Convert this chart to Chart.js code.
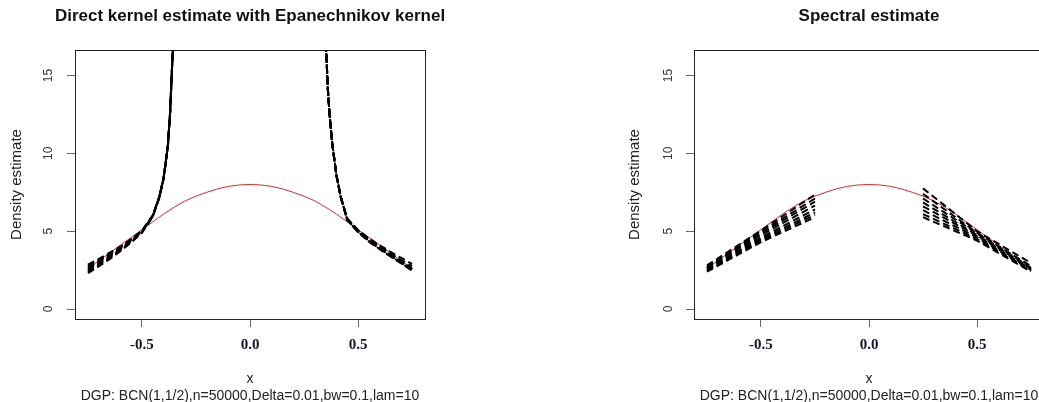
<!DOCTYPE html>
<html lang="en">
<head>
<meta charset="UTF-8">
<title>Density estimates</title>
<script src="https://cdn.jsdelivr.net/npm/chart.js@4.4.0/dist/chart.umd.min.js"></script>
<style>
    html, body { margin: 0; padding: 0; background: #fff; width: 1039px; height: 402px; overflow: hidden; }
    canvas { position: absolute; top: 0; }
    #kernelChart { left: 0; }
    #spectralChart { left: 520px; }
</style>
</head>
<body>
<canvas id="kernelChart" width="520" height="402"></canvas>
<canvas id="spectralChart" width="700" height="402"></canvas>

<script>
    // axis ticks and ranges
    var xTicks = [-0.5, 0, 0.5];
    var yTicks = [0, 5, 10, 15];
    var xRange = [-0.81, 0.81];
    var yRange = [-0.64, 16.64];

    var subText = "DGP: BCN(1,1/2),n=50000,Delta=0.01,bw=0.1,lam=10";

    // true density (red curve)
    var trueX = [-0.75, -0.7, -0.65, -0.6, -0.55, -0.5, -0.45, -0.4, -0.35, -0.3, -0.25, -0.2, -0.15, -0.1, -0.05, 0,
                 0.05, 0.1, 0.15, 0.2, 0.25, 0.3, 0.35, 0.4, 0.45, 0.5, 0.55, 0.6, 0.65, 0.7, 0.75];
    var trueDensity = [2.6, 3.1, 3.6, 4.1, 4.6, 5.1, 5.6, 6.1, 6.55, 6.95, 7.25, 7.5, 7.72, 7.88, 7.97, 8.0,
                       7.97, 7.88, 7.72, 7.5, 7.25, 6.95, 6.55, 6.1, 5.6, 5.1, 4.6, 4.1, 3.6, 3.1, 2.6];

    // direct kernel estimates, left branch
    var kernelLeftX = [-0.75, -0.7, -0.65, -0.6, -0.55, -0.5, -0.45, -0.42, -0.4, -0.38, -0.37, -0.36, -0.35, -0.34];
    var kernelLeft1 = [2.85, 3.22, 3.62, 4.02, 4.5, 5.05, 6.02, 7.22, 8.42, 10.5, 12.6, 15.8, 18.5, 23.0];
    var kernelLeft2 = [2.75, 3.15, 3.55, 3.97, 4.46, 5.02, 6.0, 7.2, 8.4, 10.48, 12.58, 15.75, 18.45, 22.9];
    var kernelLeft3 = [2.68, 3.08, 3.5, 3.92, 4.43, 5.0, 5.98, 7.18, 8.39, 10.5, 12.62, 15.82, 18.55, 23.1];
    var kernelLeft4 = [2.6, 3.02, 3.44, 3.88, 4.4, 4.98, 5.99, 7.2, 8.4, 10.52, 12.6, 15.8, 18.5, 23.0];
    var kernelLeft5 = [2.52, 2.95, 3.38, 3.84, 4.36, 4.96, 5.97, 7.17, 8.38, 10.47, 12.57, 15.76, 18.48, 22.95];
    var kernelLeft6 = [2.44, 2.88, 3.32, 3.8, 4.33, 4.94, 5.96, 7.18, 8.41, 10.51, 12.61, 15.81, 18.52, 23.05];
    var kernelLeft7 = [2.36, 2.8, 3.26, 3.75, 4.3, 4.92, 5.95, 7.16, 8.38, 10.49, 12.59, 15.79, 18.5, 23.0];
    var kernelLeft8 = [2.3, 2.74, 3.2, 3.72, 4.28, 4.9, 5.94, 7.15, 8.37, 10.46, 12.56, 15.75, 18.45, 22.9];

    // direct kernel estimates, right branch
    var kernelRightX = [0.34, 0.35, 0.36, 0.37, 0.38, 0.4, 0.42, 0.45, 0.5, 0.55, 0.6, 0.65, 0.7, 0.75];
    var kernelRight1 = [22.0, 17.5, 14.2, 12.2, 10.7, 8.6, 7.2, 5.78, 5.02, 4.45, 3.95, 3.5, 3.05, 2.62];
    var kernelRight2 = [21.9, 17.45, 14.18, 12.18, 10.68, 8.58, 7.19, 5.75, 4.98, 4.4, 3.9, 3.44, 2.98, 2.55];
    var kernelRight3 = [22.1, 17.55, 14.22, 12.22, 10.72, 8.62, 7.21, 5.74, 4.96, 4.36, 3.86, 3.4, 2.95, 2.5];
    var kernelRight4 = [22.0, 17.5, 14.2, 12.2, 10.7, 8.6, 7.2, 5.72, 4.94, 4.33, 3.84, 3.38, 2.93, 2.47];
    var kernelRight5 = [21.95, 17.48, 14.19, 12.19, 10.69, 8.59, 7.2, 5.8, 5.06, 4.5, 4.02, 3.58, 3.15, 2.75];
    var kernelRight6 = [22.05, 17.52, 14.21, 12.21, 10.71, 8.61, 7.21, 5.82, 5.08, 4.55, 4.1, 3.68, 3.28, 2.9];
    var kernelRight7 = [22.0, 17.5, 14.2, 12.2, 10.7, 8.6, 7.2, 5.76, 5.0, 4.42, 3.92, 3.46, 3.02, 2.58];
    var kernelRight8 = [21.9, 17.46, 14.18, 12.19, 10.69, 8.59, 7.19, 5.73, 4.97, 4.38, 3.88, 3.42, 2.97, 2.53];

    // spectral estimates, two branches
    var spectralLeftX = [-0.75, -0.5, -0.25];
    var spectralLeft1 = [2.8, 5.05, 7.35];
    var spectralLeft2 = [2.7, 4.95, 7.1];
    var spectralLeft3 = [2.65, 4.85, 6.9];
    var spectralLeft4 = [2.6, 4.75, 6.65];
    var spectralLeft5 = [2.55, 4.6, 6.4];
    var spectralLeft6 = [2.5, 4.5, 6.2];
    var spectralLeft7 = [2.45, 4.4, 6.05];
    var spectralLeft8 = [2.4, 4.3, 5.9];

    var spectralRightX = [0.25, 0.5, 0.75];
    var spectralRight1 = [7.75, 5.0, 2.95];
    var spectralRight2 = [7.4, 4.9, 2.75];
    var spectralRight3 = [7.1, 4.85, 2.65];
    var spectralRight4 = [6.85, 4.75, 2.6];
    var spectralRight5 = [6.6, 4.7, 2.55];
    var spectralRight6 = [6.35, 4.6, 2.5];
    var spectralRight7 = [6.1, 4.5, 2.45];
    var spectralRight8 = [5.9, 4.4, 2.4];

    var sans = "'Liberation Sans', Arial, sans-serif";
    var serif = "'Liberation Serif', 'Times New Roman', serif";

    function points(xs, ys) {
        return xs.map(function (x, i) { return { x: x, y: ys[i] }; });
    }

    function dashed(xs, ys) {
        return {
            data: points(xs, ys),
            showLine: true,
            borderColor: '#000',
            borderWidth: 2,
            borderDash: [7, 4],
            pointRadius: 0,
            fill: false
        };
    }

    // drawn last in the list so it sits underneath the estimates
    function trueCurve() {
        return {
            data: points(trueX, trueDensity),
            showLine: true,
            borderColor: '#d42a2a',
            borderWidth: 1,
            pointRadius: 0,
            fill: false
        };
    }

    // p: layout sizes; the title box is kept centred over the plot region
    function makeOptions(title, p) {
        var frame = { display: true, color: '#222', width: 1 };
        var tickMarks = { drawOnChartArea: false, drawTicks: true, tickLength: 8, color: '#666' };
        var titleLine = p.titleSize * 1.2;
        return {
            responsive: false,
            animation: false,
            devicePixelRatio: 1,
            layout: { padding: { left: 0, right: p.padRight, top: 0, bottom: 0 } },
            plugins: {
                legend: { display: false },
                tooltip: { enabled: false },
                title: {
                    display: true, text: title, color: '#111',
                    font: { family: sans, size: p.titleSize, weight: 'bold', lineHeight: 1.2 },
                    padding: { top: p.titleTop, bottom: 0 }
                }
            },
            scales: {
                x: {
                    type: 'linear', position: 'bottom', min: xRange[0], max: xRange[1],
                    afterBuildTicks: function (s) { s.ticks = xTicks.map(function (v) { return { value: v }; }); },
                    afterFit: function (s) { s.height = 83; },
                    ticks: {
                        autoSkip: false, maxRotation: 0, padding: 9, color: '#1e0f2c',
                        font: { family: serif, size: 15, weight: 'bold' },
                        callback: function (v) { return v.toFixed(1); }
                    },
                    grid: tickMarks,
                    border: frame,
                    title: {
                        display: true, text: ['x', subText], color: '#222',
                        font: { family: sans, size: 14, lineHeight: 16.5 / 14 },
                        padding: { top: 0, bottom: -2 }
                    }
                },
                y: {
                    type: 'linear', position: 'left', min: yRange[0], max: yRange[1],
                    afterBuildTicks: function (s) { s.ticks = yTicks.map(function (v) { return { value: v }; }); },
                    afterFit: function (s) { s.width = p.yWidth; },
                    ticks: {
                        minRotation: 90, maxRotation: 90, crossAlign: 'center', padding: p.yTickPad,
                        color: '#333', font: { family: sans, size: 12 },
                        callback: function (v) { return String(v); }
                    },
                    grid: tickMarks,
                    border: frame,
                    title: {
                        display: true, text: 'Density estimate', color: '#222',
                        font: { family: sans, size: 15 },
                        padding: { top: p.yTitlePad, bottom: 0 }
                    }
                },
                xTop: {
                    type: 'linear', axis: 'x', position: 'top', min: xRange[0], max: xRange[1],
                    afterFit: function (s) { s.height = 50 - titleLine - p.titleTop; },
                    ticks: { display: false },
                    grid: { display: false },
                    border: frame
                },
                yRight: {
                    type: 'linear', axis: 'y', position: 'right', min: yRange[0], max: yRange[1],
                    afterFit: function (s) { s.width = p.rightWidth; },
                    ticks: { display: false },
                    grid: { display: false },
                    border: frame
                }
            }
        };
    }

    // left panel: direct kernel estimate
    new Chart('kernelChart', {
        type: 'scatter',
        data: {
            datasets: [
                dashed(kernelLeftX, kernelLeft1), dashed(kernelLeftX, kernelLeft2),
                dashed(kernelLeftX, kernelLeft3), dashed(kernelLeftX, kernelLeft4),
                dashed(kernelLeftX, kernelLeft5), dashed(kernelLeftX, kernelLeft6),
                dashed(kernelLeftX, kernelLeft7), dashed(kernelLeftX, kernelLeft8),
                dashed(kernelRightX, kernelRight1), dashed(kernelRightX, kernelRight2),
                dashed(kernelRightX, kernelRight3), dashed(kernelRightX, kernelRight4),
                dashed(kernelRightX, kernelRight5), dashed(kernelRightX, kernelRight6),
                dashed(kernelRightX, kernelRight7), dashed(kernelRightX, kernelRight8),
                trueCurve()
            ]
        },
        options: makeOptions('Direct kernel estimate with Epanechnikov kernel', {
            titleSize: 17, titleTop: 6.3, padRight: 20, rightWidth: 75,
            yWidth: 75, yTickPad: 12, yTitlePad: 8
        })
    });

    // right panel: spectral estimate
    new Chart('spectralChart', {
        type: 'scatter',
        data: {
            datasets: [
                dashed(spectralLeftX, spectralLeft1), dashed(spectralLeftX, spectralLeft2),
                dashed(spectralLeftX, spectralLeft3), dashed(spectralLeftX, spectralLeft4),
                dashed(spectralLeftX, spectralLeft5), dashed(spectralLeftX, spectralLeft6),
                dashed(spectralLeftX, spectralLeft7), dashed(spectralLeftX, spectralLeft8),
                dashed(spectralRightX, spectralRight1), dashed(spectralRightX, spectralRight2),
                dashed(spectralRightX, spectralRight3), dashed(spectralRightX, spectralRight4),
                dashed(spectralRightX, spectralRight5), dashed(spectralRightX, spectralRight6),
                dashed(spectralRightX, spectralRight7), dashed(spectralRightX, spectralRight8),
                trueCurve()
            ]
        },
        options: makeOptions('Spectral estimate', {
            titleSize: 17, titleTop: 6.3, padRight: 2, rightWidth: 174,
            yWidth: 174, yTickPad: 10.5, yTitlePad: 106
        })
    });
</script>
</body>
</html>
